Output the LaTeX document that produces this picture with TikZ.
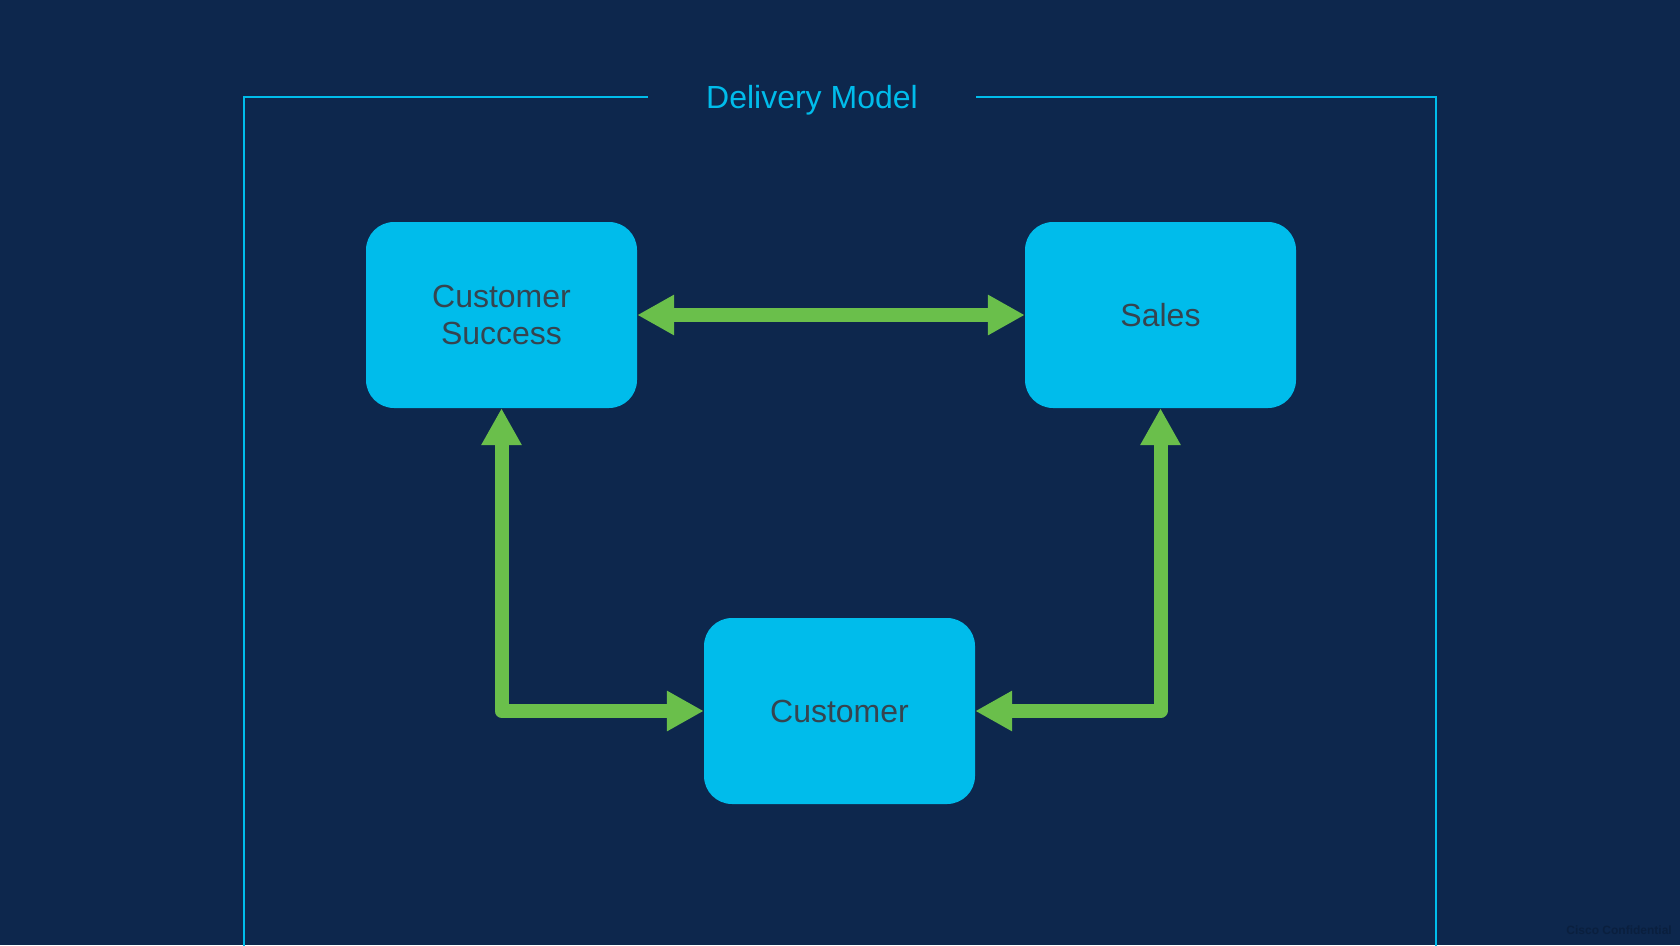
\documentclass[tikz,border=0pt]{standalone}
\usepackage{fontspec}
\setmainfont{Liberation Sans}
\usetikzlibrary{arrows.meta}
\definecolor{bg}{HTML}{0D274D}
\definecolor{cyanbox}{HTML}{00BCEB}
\definecolor{greenarrow}{HTML}{6ABF4B}
\definecolor{boxtext}{HTML}{36444F}
\definecolor{faint}{HTML}{0A1F3E}
\tikzset{
  box/.style={rectangle, rounded corners=28pt, fill=cyanbox, draw=none,
    minimum width=271pt, minimum height=186pt, inner sep=0pt,
    text=boxtext, align=center, font=\fontsize{32pt}{37pt}\selectfont},
  link/.style={draw=greenarrow, line width=14pt, line join=round,
    {Triangle[length=37pt,width=38pt]}-{Triangle[length=37pt,width=38pt]}},
  frame/.style={draw=cyanbox, line width=2pt}
}
\begin{document}
\begin{tikzpicture}[x=1pt,y=-1pt]
\fill[bg] (0,0) rectangle (1680,945);
\useasboundingbox (0,0) rectangle (1680,945);
% frame
\coordinate (fl) at (648,97);
\coordinate (ftl) at (244,97);
\coordinate (fbl) at (244,950);
\coordinate (fr) at (976,97);
\coordinate (ftr) at (1436,97);
\coordinate (fbr) at (1436,950);
\draw[frame] (fl) -- (ftl) -- (fbl);
\draw[frame] (fr) -- (ftr) -- (fbr);
\node[anchor=base, text=cyanbox, font=\fontsize{32pt}{37pt}\selectfont, inner sep=0pt] (title) at (812,108) {Delivery Model};
% boxes
\node[box] (cs) at (501.5,315) {Customer\\Success};
\node[box] (sales) at (1160.5,315) {Sales};
\node[box] (cust) at (839.5,711) {Customer};
% connectors
\draw[link] (cs.east) -- (sales.west);
\draw[link] (cs.south) |- (cust.west);
\draw[link] (sales.south) |- (cust.east);
\node[anchor=base east, text=faint, font=\bfseries\fontsize{12pt}{14pt}\selectfont, inner sep=0pt] (conf) at (1672,934) {Cisco Confidential};
\end{tikzpicture}
\end{document}
